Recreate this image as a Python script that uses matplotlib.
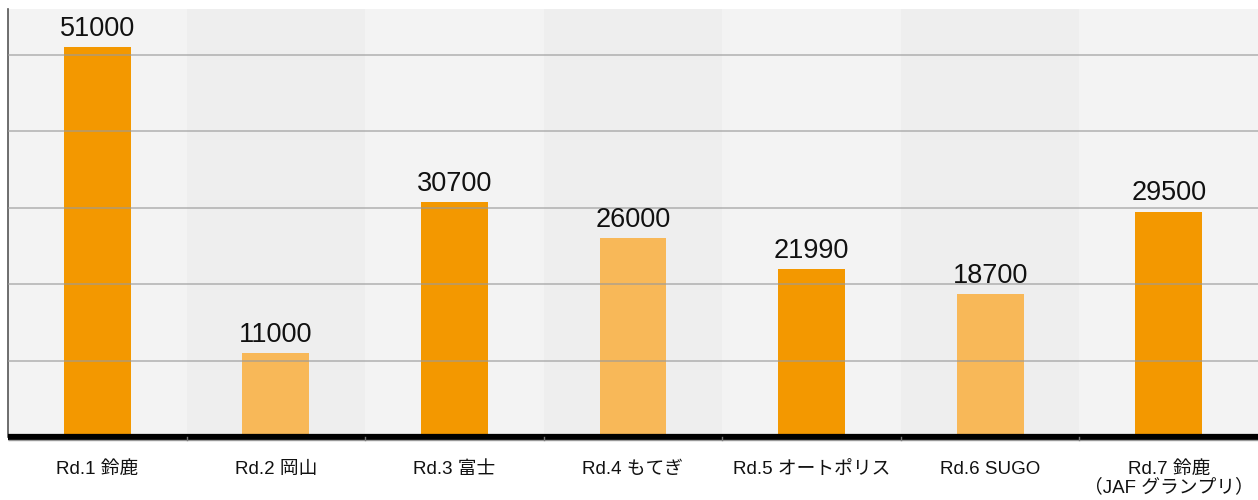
import matplotlib
matplotlib.use('Agg')
import matplotlib.pyplot as plt
import numpy as np

# data
ROUNDS = ['Rd.1 鈴鹿', 'Rd.2 岡山', 'Rd.3 富士', 'Rd.4 もてぎ',
          'Rd.5 オートポリス', 'Rd.6 SUGO', 'Rd.7 鈴鹿\n（JAF グランプリ）']
VISITORS = [51000, 11000, 30700, 26000, 21990, 18700, 29500]
GRID_TICKS = [10000, 20000, 30000, 40000, 50000]

DARK = '#f39800'
LIGHT = '#f8b858'
BAR_COLORS = [DARK, LIGHT, DARK, LIGHT, DARK, LIGHT, DARK]
BAND_COLORS = ['#f3f3f3', '#eeeeee']
FONTS = ['Liberation Sans', 'Noto Sans CJK JP', 'DejaVu Sans']

plt.rcParams['font.family'] = FONTS

fig = plt.figure(figsize=(12.58, 5.0), dpi=100)
ax = fig.add_axes([8 / 1258, 63 / 500, 1250 / 1258, 428 / 500])

x = np.arange(len(ROUNDS))
# alternating background bands
for i in x:
    ax.axvspan(i - 0.5, i + 0.5, color=BAND_COLORS[i % 2], zorder=0, lw=0)

ax.bar(x, VISITORS, width=0.375, color=BAR_COLORS, zorder=2)

for xi, v in zip(x, VISITORS):
    ax.text(xi, v + 700, str(v), ha='center', va='bottom', fontsize=19.5,
            color='#111111', zorder=4)

for g in GRID_TICKS:
    ax.axhline(g, color='#9a9a9a', lw=1.4, alpha=0.6, zorder=3)

ax.set_xlim(-0.5, len(ROUNDS) - 0.5)
ax.set_ylim(0, 56000)
ax.set_yticks([])
ax.set_xticks(x)
ax.set_xticklabels(ROUNDS, fontsize=13.5, color='#111111', linespacing=1.05)
ax.tick_params(axis='x', length=0, pad=17)

for side in ['top', 'right']:
    ax.spines[side].set_visible(False)
ax.spines['left'].set_color('#555555')
ax.spines['left'].set_linewidth(1.2)
ax.spines['bottom'].set_visible(False)

# thick black baseline with a thin grey rule under it
ax.axhline(0, color='black', lw=4.5, solid_capstyle='butt', zorder=5, clip_on=False)
ax.axhline(-450, color='#999999', lw=1, solid_capstyle='butt', zorder=5, clip_on=False)

# faint separators at band boundaries on the baseline
for b in x[1:]:
    ax.plot([b - 0.5, b - 0.5], [0, -450], color='#777777', lw=1, clip_on=False, zorder=6)

fig.savefig('out.png', dpi=100, facecolor='white')
